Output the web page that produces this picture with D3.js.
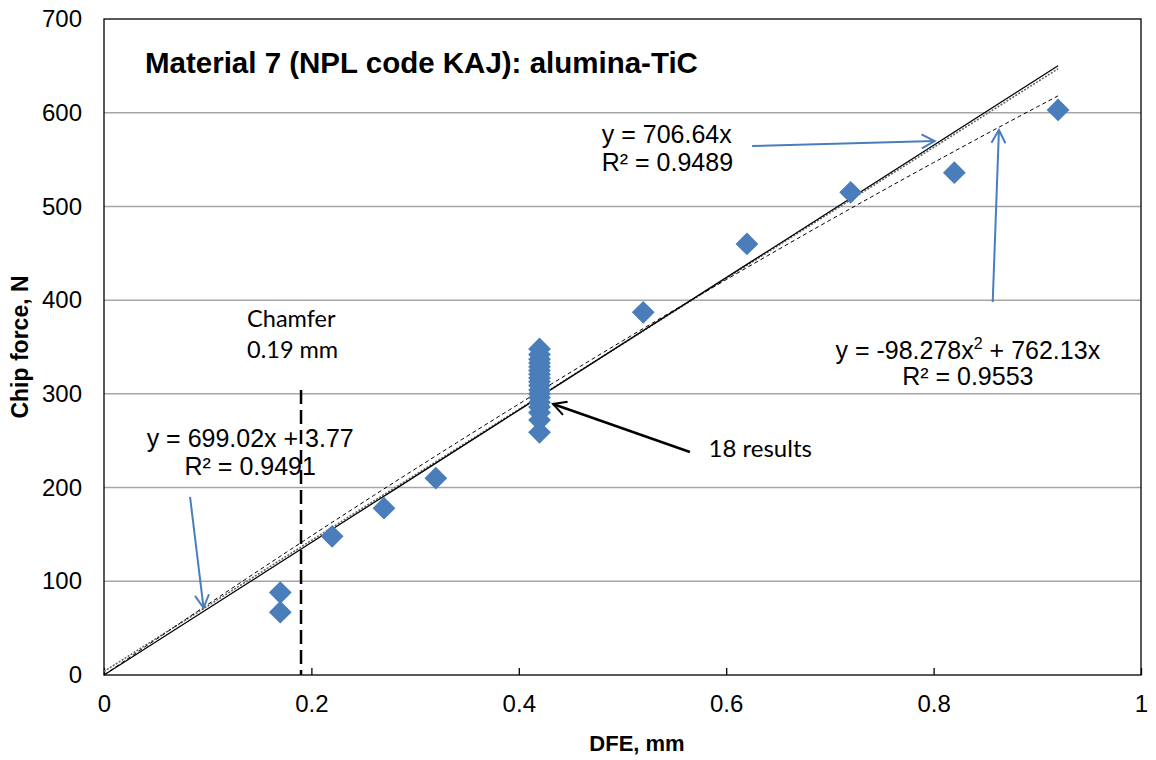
<!DOCTYPE html>
<html>
<head>
  <title>Chip force vs DFE</title>
  <script src="https://d3js.org/d3.v7.min.js"></script>
  <style>
    body { margin: 0; background: #fff; }
    text { font-family: "Liberation Sans", Arial, sans-serif; fill: #000; }
    .calibri { font-family: Lato, "Open Sans", sans-serif; }
  </style>
</head>
<body>
  <svg id="svg" width="1156" height="760"></svg>
  <script>
    // ---------------- data ----------------
    const dfe = [0.17, 0.17, 0.22, 0.27, 0.32,
      0.42, 0.42, 0.42, 0.42, 0.42, 0.42, 0.42, 0.42, 0.42,
      0.42, 0.42, 0.42, 0.42, 0.42, 0.42, 0.42, 0.42, 0.42,
      0.52, 0.62, 0.72, 0.82, 0.92];
    const chipForce = [88, 67, 148, 178, 210,
      348, 342, 337, 333, 329, 325, 321, 317, 313,
      309, 304, 300, 296, 291, 286, 280, 272, 259,
      387, 460, 515, 536, 603];

    const xTicks = [0, 0.2, 0.4, 0.6, 0.8, 1];
    const yTicks = [0, 100, 200, 300, 400, 500, 600, 700];

    // trendline coefficients as printed on the chart
    const fitOrigin = [706.64];          // y = a x
    const fitLinear = [699.02, 3.77];    // y = a x + b
    const fitPoly = [-98.278, 762.13];   // y = a x^2 + b x
    const fitRange = [0, 0.92];
    const chamferDepth = 0.19;

    const svg = d3.select("#svg");
    const margins = { top: 19, right: 15, bottom: 85, left: 104 };
    const width = +svg.attr("width");
    const height = +svg.attr("height");
    const chartWidth = width - margins.left - margins.right;
    const chartHeight = height - margins.top - margins.bottom;

    const xScale = d3.scaleLinear().domain([0, 1]).range([0, chartWidth]);
    const yScale = d3.scaleLinear().domain([0, 700]).range([chartHeight, 0]);

    const chart = svg.append("g")
      .attr("transform", `translate(${margins.left},${margins.top})`);

    // arrow heads
    const defs = svg.append("defs");
    [["blueHead", "#4a7ebb"], ["blackHead", "#000"]].forEach(([id, col]) => {
      defs.append("marker")
        .attr("id", id)
        .attr("markerUnits", "userSpaceOnUse")
        .attr("viewBox", "-14 -8 16 16")
        .attr("refX", 0).attr("refY", 0)
        .attr("markerWidth", 16).attr("markerHeight", 16)
        .attr("orient", "auto")
        .append("path")
        .attr("d", "M-13,-7 L0,0 L-13,7")
        .attr("fill", "none")
        .attr("stroke", col)
        .attr("stroke-width", 2);
    });

    // gridlines
    chart.append("g")
      .selectAll("line")
      .data(yTicks.filter(d => d > 0 && d < 700))
      .join("line")
      .attr("x1", 0).attr("x2", chartWidth)
      .attr("y1", d => yScale(d)).attr("y2", d => yScale(d))
      .attr("stroke", "#a6a6a6")
      .attr("stroke-width", 1.5);

    // frame
    chart.append("rect")
      .attr("width", chartWidth).attr("height", chartHeight)
      .attr("fill", "none").attr("stroke", "#000").attr("stroke-width", 1.3);

    // axes
    const bottomAxis = d3.axisBottom(xScale).tickValues(xTicks)
      .tickFormat(d => d3.format("")(d)).tickSize(-7).tickPadding(20);
    chart.append("g")
      .attr("transform", `translate(0,${chartHeight})`)
      .call(bottomAxis)
      .call(g => g.select(".domain").remove())
      .call(g => g.selectAll("line").attr("stroke", "#000").attr("stroke-width", 1.3))
      .call(g => g.selectAll("text").attr("font-size", 24).attr("font-family", "Liberation Sans"));

    const leftAxis = d3.axisLeft(yScale).tickValues(yTicks).tickSize(0).tickPadding(22);
    chart.append("g")
      .call(leftAxis)
      .call(g => g.select(".domain").remove())
      .call(g => g.selectAll("text").attr("font-size", 24).attr("font-family", "Liberation Sans"));

    // axis titles
    svg.append("text")
      .attr("transform", `translate(28,${margins.top + chartHeight / 2}) rotate(-90)`)
      .attr("text-anchor", "middle")
      .attr("font-weight", "bold").attr("font-size", 23)
      .text("Chip force, N");
    svg.append("text")
      .attr("x", margins.left + chartWidth * 0.514).attr("y", 751)
      .attr("text-anchor", "middle")
      .attr("font-weight", "bold").attr("font-size", 22)
      .text("DFE, mm");

    // trendlines
    const line = d3.line().x(d => xScale(d[0])).y(d => yScale(d[1]));
    const xs = d3.range(fitRange[0], fitRange[1] + 1e-9, 0.02);

    chart.append("path")
      .attr("d", line(xs.map(x => [x, fitLinear[0] * x + fitLinear[1]])))
      .attr("fill", "none").attr("stroke", "#666")
      .attr("stroke-width", 1.6).attr("stroke-dasharray", "2,1.5");

    chart.append("path")
      .attr("d", line(xs.map(x => [x, fitOrigin[0] * x])))
      .attr("fill", "none").attr("stroke", "#000").attr("stroke-width", 1.3);

    chart.append("path")
      .attr("d", line(xs.map(x => [x, fitPoly[0] * x * x + fitPoly[1] * x])))
      .attr("fill", "none").attr("stroke", "#000")
      .attr("stroke-width", 1).attr("stroke-dasharray", "4,3");

    // chamfer marker
    chart.append("line")
      .attr("x1", xScale(chamferDepth)).attr("x2", xScale(chamferDepth))
      .attr("y1", yScale(304)).attr("y2", yScale(0))
      .attr("stroke", "#000").attr("stroke-width", 2.5)
      .attr("stroke-dasharray", "14,6");

    // points (diamonds)
    const diamond = d3.symbol().type(d3.symbolSquare).size(260);
    chart.append("g")
      .selectAll("path")
      .data(dfe.map((x, i) => [x, chipForce[i]]))
      .join("path")
      .attr("d", diamond)
      .attr("transform", d => `translate(${xScale(d[0])},${yScale(d[1])}) rotate(45)`)
      .attr("fill", "#4a7ebb");

    // annotation arrows
    const arrows = [
      { from: [0.625, 564.5], to: [0.801, 569.8], head: "blueHead", col: "#4a7ebb", w: 2 },
      { from: [0.857, 398], to: [0.863, 581.6], head: "blueHead", col: "#4a7ebb", w: 2 },
      { from: [0.083, 190], to: [0.096, 71.5], head: "blueHead", col: "#4a7ebb", w: 2 },
      { from: [0.565, 238], to: [0.433, 289.2], head: "blackHead", col: "#000", w: 2.5 }
    ];
    chart.append("g")
      .selectAll("line")
      .data(arrows)
      .join("line")
      .attr("x1", d => xScale(d.from[0])).attr("y1", d => yScale(d.from[1]))
      .attr("x2", d => xScale(d.to[0])).attr("y2", d => yScale(d.to[1]))
      .attr("stroke", d => d.col).attr("stroke-width", d => d.w)
      .attr("marker-end", d => `url(#${d.head})`);

    // labels
    const label = (x, y, txt, opts = {}) => chart.append("text")
      .attr("x", xScale(x)).attr("y", yScale(y))
      .attr("text-anchor", opts.anchor || "start")
      .attr("font-size", opts.size || 25)
      .attr("font-weight", opts.weight || "normal")
      .attr("class", opts.cls || null)
      .text(txt);

    label(0.0395, 642.4, "Material 7 (NPL code KAJ): alumina-TiC", { size: 29.5, weight: "bold" });
    label(0.480, 567.7, "y = 706.64x");
    label(0.480, 537.8, "R² = 0.9489");

    const eq3 = label(0.833, 337.2, "y = -98.278x", { anchor: "middle" });
    eq3.append("tspan").attr("font-size", 16).attr("dy", -10).text("2");
    eq3.append("tspan").attr("dy", 10).text(" + 762.13x");
    label(0.833, 309.5, "R² = 0.9553", { anchor: "middle" });

    label(0.141, 243.3, "y = 699.02x + 3.77", { anchor: "middle" });
    label(0.141, 213.4, "R² = 0.9491", { anchor: "middle" });

    label(0.138, 371.4, "Chamfer", { cls: "calibri", size: 23.5 });
    label(0.138, 338.3, "0.19 mm", { cls: "calibri", size: 23.5 });
    label(0.583, 232.6, "18 results", { cls: "calibri", size: 24 });
  </script>
</body>
</html>
